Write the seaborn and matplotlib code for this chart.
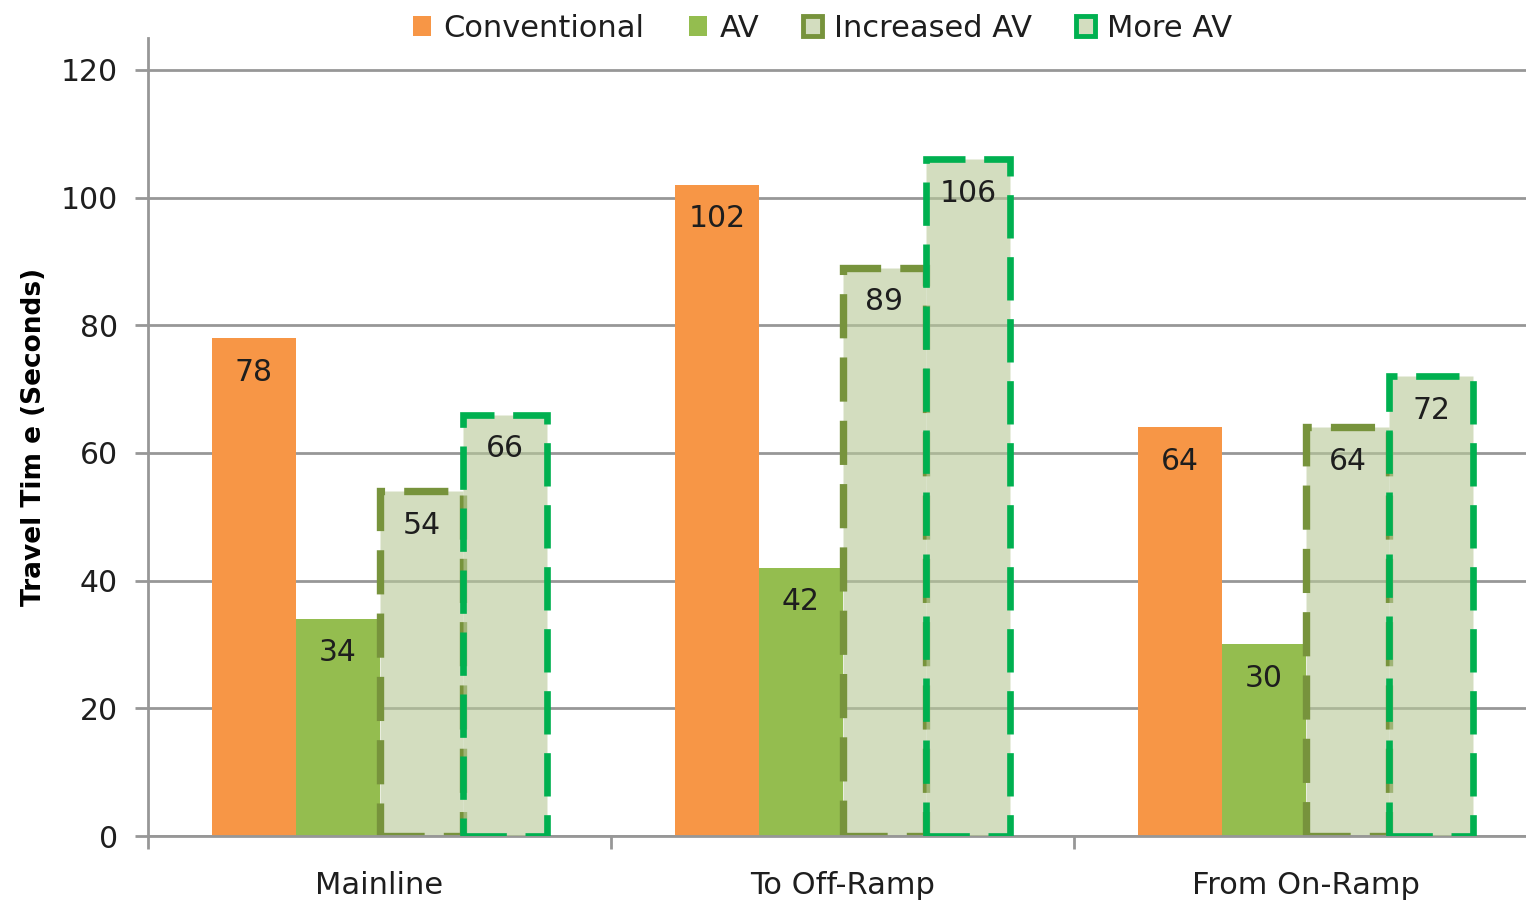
import matplotlib
matplotlib.use("Agg")
import matplotlib.pyplot as plt
from matplotlib.patches import Patch
import seaborn as sns
import pandas as pd

# Travel time per road segment under each fleet scenario
segments = ["Mainline", "To Off-Ramp", "From On-Ramp"]
scenarios = ["Conventional", "AV", "Increased AV", "More AV"]
conventional = [78, 102, 64]
av = [34, 42, 30]
increased_av = [54, 89, 64]
more_av = [66, 106, 72]
y_ticks = [0, 20, 40, 60, 80, 100, 120]

df = pd.DataFrame({
    "segment": segments * 4,
    "scenario": [s for s in scenarios for _ in segments],
    "time": conventional + av + increased_av + more_av,
})

sns.set_theme(style="white")
plt.rcParams["font.family"] = ["DejaVu Sans"]

ORANGE = "#F79646"
GREEN = "#94BD4F"
PALE = (0.72, 0.79, 0.60, 0.62)
OLIVE = "#77933C"
BRIGHT = "#00B050"
GRID = "#979797"
TEXT = "#1E1E1E"

fig = plt.figure(figsize=(15.26, 9.01), dpi=100)
ax = fig.add_axes([148 / 1526, 65 / 901, 1 - 148 / 1526, (836 - 38) / 901])

sns.barplot(data=df, x="segment", y="time", hue="scenario",
            order=segments, hue_order=scenarios,
            palette=[ORANGE, GREEN, PALE[:3], PALE[:3]],
            saturation=1, width=0.724, gap=0, legend=False, ax=ax,
            errorbar=None)

styles = {
    "Conventional": dict(fc=ORANGE, ec="none", lw=0, ls="-"),
    "AV": dict(fc=GREEN, ec="none", lw=0, ls="-"),
    "Increased AV": dict(fc=PALE, ec=OLIVE, lw=5.3, ls=(0, (6, 2.6))),
    "More AV": dict(fc=PALE, ec=BRIGHT, lw=4.8, ls=(0, (6.5, 2.8))),
}

for name, container in zip(scenarios, ax.containers):
    st = styles[name]
    for bar in container:
        bar.set_facecolor(st["fc"])
        bar.set_edgecolor(st["ec"])
        bar.set_linewidth(st["lw"])
        bar.set_linestyle(st["ls"])
        bar.set_joinstyle("miter")
        bar.set_capstyle("butt")
        bar.set_zorder(3 if name == "More AV" else 2)
        h = bar.get_height()
        ax.annotate(f"{h:.0f}", (bar.get_x() + bar.get_width() / 2, h),
                    xytext=(0, -24.5), textcoords="offset points",
                    ha="center", va="center", fontsize=21.5, color=TEXT,
                    zorder=5)

ax.set_ylim(0, 125)
ax.set_xlim(-0.5, (1526 - 148) / 463 - 0.5)
ax.set_yticks(y_ticks)
ax.set_axisbelow(True)
ax.yaxis.grid(True, color=GRID, linewidth=2.0)
ax.xaxis.grid(False)

for side in ("top", "right"):
    ax.spines[side].set_visible(False)
for side in ("left", "bottom"):
    ax.spines[side].set_color(GRID)
    ax.spines[side].set_linewidth(2.0)

ax.tick_params(axis="y", which="major", left=True, length=9.5, width=2.0,
               color=GRID, pad=12, labelsize=21.5, labelcolor=TEXT)
ax.set_xticks([0, 1, 2])
ax.set_xticklabels(segments)
ax.set_xticks([-0.5, 0.5, 1.5], minor=True)
ax.tick_params(axis="x", which="major", bottom=False, length=0, pad=25,
               labelsize=22, labelcolor=TEXT)
ax.tick_params(axis="x", which="minor", bottom=True, length=9, width=2.0,
               color=GRID)

ax.set_xlabel("")
ax.set_ylabel("Travel Tim e (Seconds)", fontsize=19, fontweight="bold",
              color="black")
ax.yaxis.set_label_coords(-0.0735, 0.5)

handles = [
    Patch(facecolor=ORANGE, edgecolor="none", label="Conventional"),
    Patch(facecolor=GREEN, edgecolor="none", label="AV"),
    Patch(facecolor=PALE, edgecolor=OLIVE, linewidth=3.5, label="Increased AV"),
    Patch(facecolor=PALE, edgecolor=BRIGHT, linewidth=3.5, label="More AV"),
]
leg = fig.legend(handles=handles, loc="upper center", ncol=4,
                 bbox_to_anchor=(0.539, 1.005), frameon=False, fontsize=22,
                 handlelength=0.6, handleheight=0.6, handletextpad=0.4,
                 columnspacing=1.45, borderaxespad=0.2)
for t in leg.get_texts():
    t.set_color(TEXT)

fig.savefig("out.png", dpi=100)
